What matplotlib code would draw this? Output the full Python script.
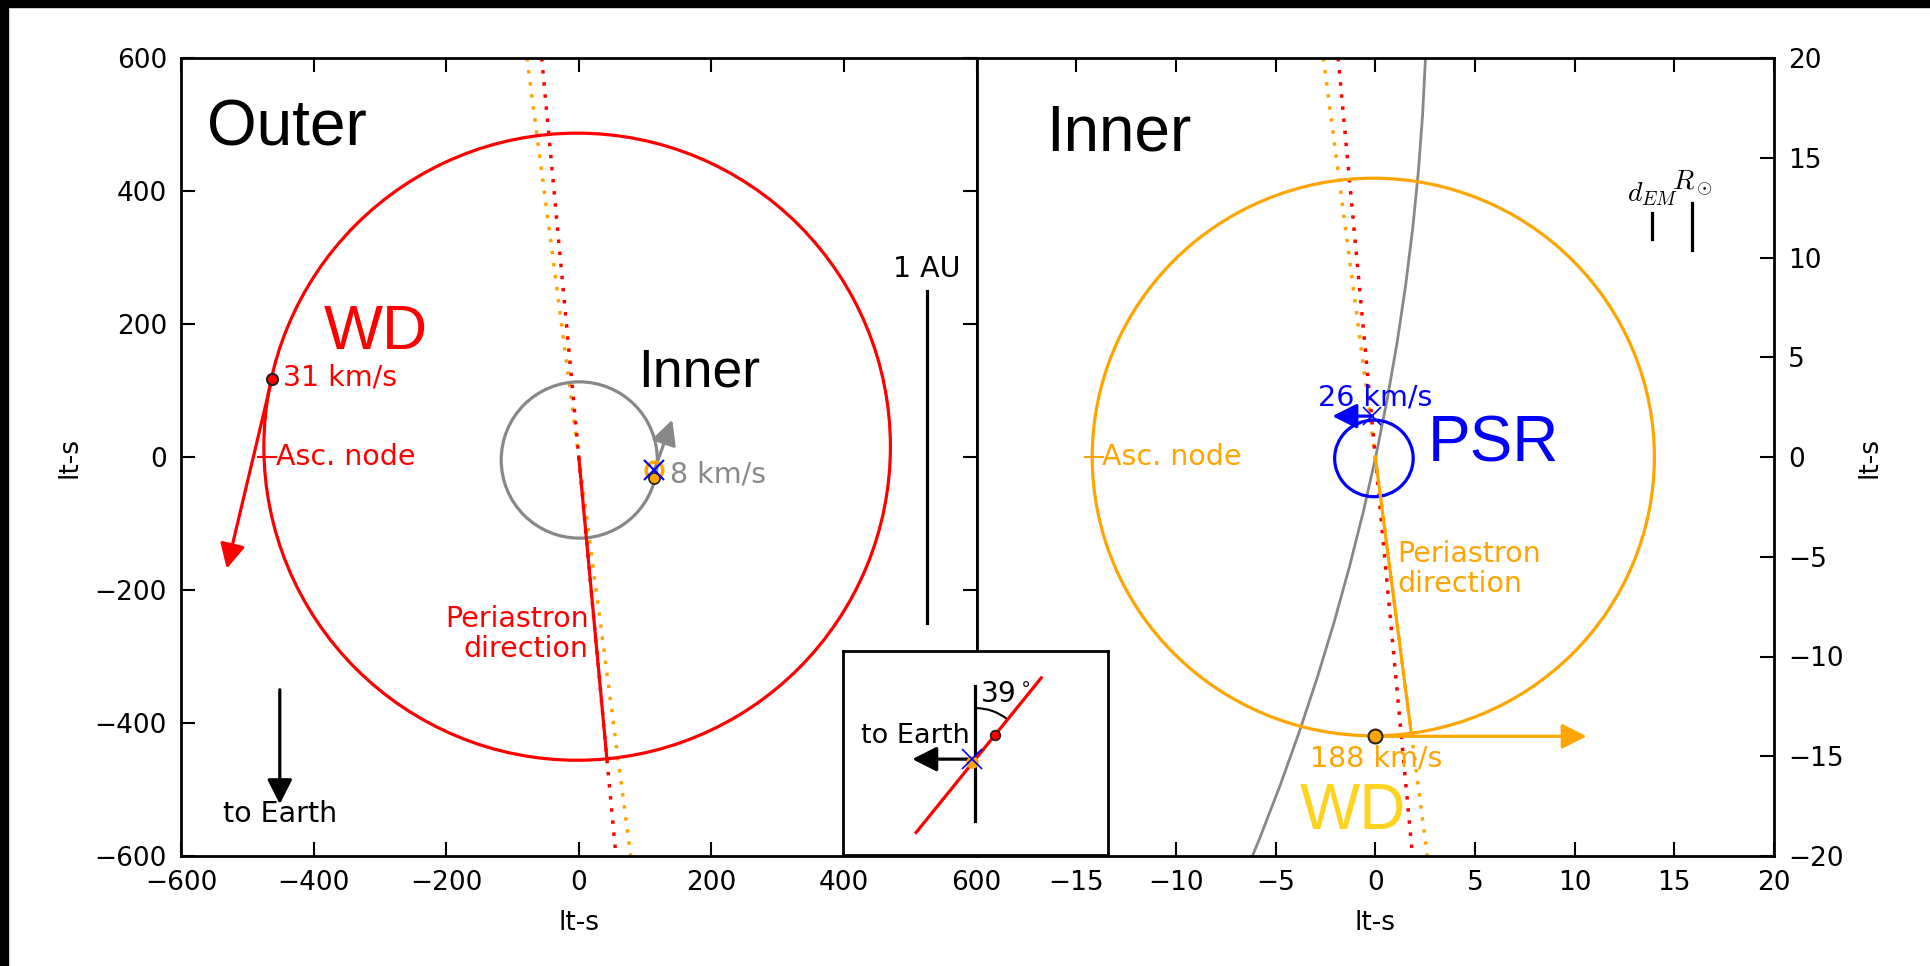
import matplotlib
matplotlib.use('Agg')
import matplotlib.pyplot as plt
from matplotlib.patches import Ellipse, Arc, Rectangle
import numpy as np

# ------------------------------------------------------------------ #
# Outer orbit (left panel), lt-s
outer_wd_center = (-2.5, 15.5)
outer_wd_size = (945.0, 943.0)
inner_cm_center = (0.7, -4.5)
inner_cm_size = (235.5, 235.0)
outer_peri_end = (42.0, -450.0)
outer_wd_pos = (-463.0, 117.0)
outer_wd_vel_tip = (-531.0, -168.0)
outer_wd_speed = 31
outer_asc_node = (-471.0, 0.0)
inner_cm_pos = (114.0, -20.0)
inner_wd_pos_outer = (114.0, -31.0)
inner_cm_vel_tip = (141.0, 56.0)
inner_cm_speed = 8
au_bar_x = 525.0
au_bar_y = (-249.0, 250.0)
earth_arrow_x = -451.0
earth_arrow_y = (-350.0, -522.0)

# Inner orbit (right panel), lt-s
inner_wd_center = (-0.1, 0.0)
inner_wd_size = (28.2, 27.95)
psr_center = (-0.07, -0.07)
psr_size = (3.94, 3.84)
inner_peri_end = (1.8, -13.8)
inner_wd_pos = (0.0, -14.0)
inner_wd_vel_tip = (10.6, -14.0)
inner_wd_speed = 188
psr_pos = (-0.15, 2.05)
psr_vel_tip = (-2.15, 2.05)
psr_speed = 26
inner_asc_node = (-14.1, 0.0)
cm_track_center = (-114.8, 24.5)
cm_track_radius = 117.4
d_em = 1.28     # Earth-Moon distance
r_sun = 2.32    # solar radius
d_em_x, r_sun_x = 13.9, 15.9

# inclination of the orbital plane to the line of sight
incl_deg = 39

red = '#ff0000'
orange = '#ffa500'
gray = '#888888'
blue = '#0000ff'
gold = '#ffd320'
big_font = 'Liberation Sans'
dots = (0, (1, 2.5))
note_size = 20.5

plt.rcParams.update({'font.size': 19, 'axes.linewidth': 2.0})

W, H = 1931, 966
fig = plt.figure(figsize=(W / 100, H / 100), dpi=100)
fig.patch.set_facecolor('white')

ax1 = fig.add_axes([181 / W, 110 / H, 795.6 / W, 798 / H])
ax2 = fig.add_axes([976.6 / W, 110 / H, 797.4 / W, 798 / H])
ax_in = fig.add_axes([843 / W, 111 / H, 265 / W, 204 / H], zorder=10)


def vel_arrow(ax, start, tip, color, lw=2.3, scale=20):
    ax.annotate('', xy=tip, xytext=start,
                arrowprops=dict(arrowstyle='-|>,head_length=0.75,head_width=0.38',
                                mutation_scale=scale, color=color, lw=lw,
                                shrinkA=0, shrinkB=0))


# ---------------------------- outer panel ---------------------------- #
ax1.set_xlim(-600, 600)
ax1.set_ylim(-600, 600)
ax1.axline((0, 0), inner_peri_end, color=orange, ls=dots, lw=2.5, zorder=1)
ax1.axline((0, 0), outer_peri_end, color=red, ls=dots, lw=2.5, zorder=1)
ax1.add_patch(Ellipse(outer_wd_center, *outer_wd_size, fill=False, ec=red, lw=2.3))
ax1.add_patch(Ellipse(inner_cm_center, *inner_cm_size, fill=False, ec=gray, lw=2.3))
ax1.plot([0, outer_peri_end[0]], [0, outer_peri_end[1]], color=red, lw=2.3)

vel_arrow(ax1, outer_wd_pos, outer_wd_vel_tip, red)
ax1.plot(*outer_wd_pos, 'o', color=red, mec='#222222', ms=8, mew=1.5, zorder=5)
ax1.plot(*outer_asc_node, '_', color=red, ms=14, mew=1.5)
vel_arrow(ax1, inner_cm_pos, inner_cm_vel_tip, gray)
ax1.plot(*inner_cm_pos, 'o', mfc='none', mec=orange, ms=12, mew=2.5, zorder=5)
ax1.plot(*inner_wd_pos_outer, 'o', color=orange, mec='#222222', ms=8, mew=1.2, zorder=6)
ax1.plot(*inner_cm_pos, 'x', color=blue, ms=15, mew=1.5, zorder=7)

ax1.plot([au_bar_x, au_bar_x], au_bar_y, color='k', lw=2.3)
ax1.text(au_bar_x, au_bar_y[1] + 12, '1 AU', ha='center', va='bottom', fontsize=note_size)
vel_arrow(ax1, (earth_arrow_x, earth_arrow_y[0]), (earth_arrow_x, earth_arrow_y[1]), 'k')
ax1.text(earth_arrow_x, -537, 'to Earth', ha='center', va='center', fontsize=note_size)

ax1.text(-561, 494, 'Outer', fontsize=46, family=big_font, va='center')
ax1.text(-384, 187, 'WD', fontsize=45, family=big_font, color=red, va='center')
ax1.text(90, 127, 'Inner', fontsize=38.5, family=big_font, va='center')
ax1.text(-446, 119, '%d km/s' % outer_wd_speed, color=red, fontsize=note_size, va='center')
ax1.text(-457, 0, 'Asc. node', color=red, fontsize=note_size, va='center')
ax1.text(15, -266, 'Periastron\ndirection', color=red, fontsize=note_size,
         ha='right', va='center', linespacing=1.1)
ax1.text(138, -27, '%d km/s' % inner_cm_speed, color=gray, fontsize=note_size, va='center')

ax1.set_xticks(np.arange(-600, 601, 200))
ax1.set_yticks(np.arange(-600, 601, 200))
ax1.tick_params(direction='in', length=10, width=1.5, pad=10, labelsize=19,
                top=True, right=True)
ax1.set_xlabel('lt-s')
ax1.set_ylabel('lt-s')
ax1.xaxis.set_label_coords(0.5, -0.068)
ax1.yaxis.set_label_coords(-0.124, 0.5)

# ---------------------------- inner panel ---------------------------- #
ax2.set_xlim(-20, 20)
ax2.set_ylim(-20, 20)
ax2.axline((0, 0), inner_peri_end, color=orange, ls=dots, lw=2.5, zorder=1)
ax2.axline((0, 0), outer_peri_end, color=red, ls=dots, lw=2.5, zorder=1)
ax2.add_patch(Ellipse(cm_track_center, 2 * cm_track_radius, 2 * cm_track_radius,
                      fill=False, ec=gray, lw=2))
ax2.add_patch(Ellipse(inner_wd_center, *inner_wd_size, fill=False, ec=orange, lw=2.3))
ax2.add_patch(Ellipse(psr_center, *psr_size, fill=False, ec=blue, lw=2.3))
ax2.plot([0, inner_peri_end[0]], [0, inner_peri_end[1]], color=orange, lw=2.3)

vel_arrow(ax2, inner_wd_pos, inner_wd_vel_tip, orange)
ax2.plot(*inner_wd_pos, 'o', color=orange, mec='#222222', ms=10, mew=1.5, zorder=5)
vel_arrow(ax2, psr_pos, psr_vel_tip, blue)
ax2.plot(*psr_pos, 'x', color=blue, ms=13, mew=1.2, zorder=6)
ax2.plot(*inner_asc_node, '_', color=orange, ms=14, mew=1.5)

ax2.plot([d_em_x, d_em_x], [10.95, 10.95 + d_em], color='k', lw=2.3)
ax2.plot([r_sun_x, r_sun_x], [10.4, 10.4 + r_sun], color='k', lw=2.3)
ax2.text(d_em_x, 10.95 + d_em + 0.25, r'$d_{EM}$', ha='center', va='bottom',
         fontsize=20, math_fontfamily='cm')
ax2.text(r_sun_x, 10.4 + r_sun + 0.25, r'$R_\odot$', ha='center', va='bottom',
         fontsize=20, math_fontfamily='cm')

ax2.text(-16.5, 16.2, 'Inner', fontsize=46, family=big_font, va='center')
ax2.text(2.64, 0.63, 'PSR', fontsize=46, family=big_font, color=blue, va='center')
ax2.text(-3.8, -17.8, 'WD', fontsize=46, family=big_font, color=gold, va='center')
ax2.text(0, 3.0, '%d km/s' % psr_speed, color=blue, fontsize=note_size,
         ha='center', va='center')
ax2.text(-13.7, 0, 'Asc. node', color=orange, fontsize=note_size, va='center')
ax2.text(1.1, -5.6, 'Periastron\ndirection', color=orange, fontsize=note_size,
         ha='left', va='center', linespacing=1.1)
ax2.text(-3.3, -15.1, '%d km/s' % inner_wd_speed, color=orange, fontsize=note_size,
         va='center')

ax2.set_xticks(np.arange(-15, 21, 5))
ax2.set_yticks(np.arange(-20, 21, 5))
ax2.tick_params(direction='in', length=10, width=1.5, pad=10, labelsize=19,
                top=True, left=False, right=True, labelleft=False, labelright=True)
ax2.set_xlabel('lt-s')
ax2.yaxis.set_label_position('right')
ax2.set_ylabel('lt-s', rotation=90)
ax2.xaxis.set_label_coords(0.5, -0.068)
ax2.yaxis.set_label_coords(1.104, 0.5)

# ------------------------- inclination inset ------------------------- #
ax_in.set_xlim(-2.6, 2.6)
ax_in.set_ylim(-1.88, 2.12)
ax_in.set_xticks([])
ax_in.set_yticks([])
ax_in.set_facecolor('white')
ax_in.plot([0, 0], [-1.22, 1.43], color='k', lw=2.3)
th = np.radians(incl_deg)
ax_in.plot([-1.85 * np.sin(th), 2.05 * np.sin(th)],
           [-1.85 * np.cos(th), 2.05 * np.cos(th)], color=red, lw=2.3)
ax_in.add_patch(Arc((0, 0), 2, 2, theta1=90 - incl_deg, theta2=90, color='k', lw=1.5))
ax_in.text(0.08, 1.27, r'%d$^\circ$' % incl_deg, fontsize=20, va='center')
vel_arrow(ax_in, (0, 0), (-1.24, 0), 'k')
ax_in.plot(0.6 * np.sin(th), 0.6 * np.cos(th), 'o', color=red, mec='#222222',
           ms=7, mew=1.2, zorder=5)
ax_in.plot(-0.06, -0.06, 'o', color=orange, ms=8, zorder=5)
ax_in.plot(-0.06, 0, 'x', color=blue, ms=14, mew=1.2, zorder=6)
ax_in.text(-1.17, 0.45, 'to Earth', ha='center', va='center', fontsize=19.5)

# black strips along the top and left edges
fig.patches.append(Rectangle((0, 1 - 7 / H), 1, 7 / H, transform=fig.transFigure,
                             color='black', zorder=20))
fig.patches.append(Rectangle((0, 0), 8 / W, 1, transform=fig.transFigure,
                             color='black', zorder=20))

fig.savefig('out.png', dpi=100)
